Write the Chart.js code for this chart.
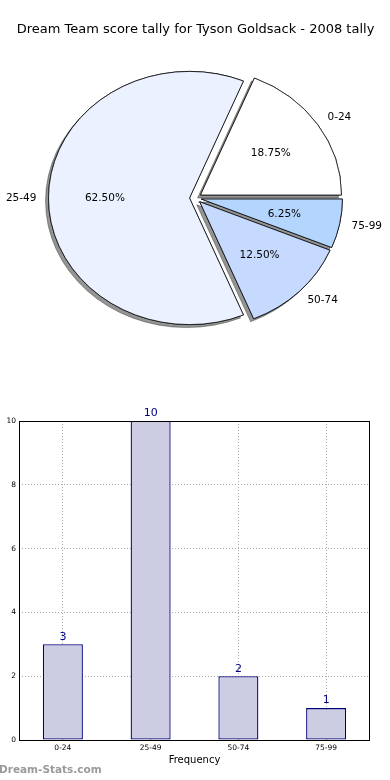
<!DOCTYPE html>
<html>
<head>
<meta charset="utf-8">
<script src="https://cdn.jsdelivr.net/npm/chart.js@4"></script>
<style>
  html, body { margin: 0; padding: 0; background: #fff; }
  #wrap { position: relative; width: 390px; height: 780px; overflow: hidden; }
  #pieChart { position: absolute; left: 0; top: 0; }
  #barChart { position: absolute; left: 0; top: 390px; }
</style>
</head>
<body>
<div id="wrap">
  <canvas id="pieChart" width="390" height="390"></canvas>
  <canvas id="barChart" width="390" height="390"></canvas>
</div>
<script>
const categories = ['0-24', '25-49', '50-74', '75-99'];
const counts = [3, 10, 2, 1];
const yTicks = [0, 2, 4, 6, 8, 10];

const chartTitle = 'Dream Team score tally for Tyson Goldsack - 2008 tally';
const xTitle = 'Frequency';
const yTitle = 'Distribution';
const watermark = 'Dream-Stats.com';

const sliceColors = ['#ffffff', '#ebf1fe', '#c6d9fe', '#b4d6fe'];
const FONT = "'DejaVu Sans', sans-serif";
const squash = 0.898;   // pie is drawn as an ellipse, like the original
const explode = 6;      // px each slice is pushed out

Chart.defaults.font.family = FONT;
Chart.defaults.animation = false;

// matplotlib goes counter-clockwise from 3 o'clock, chart.js clockwise, so reverse
const pieLabels = categories.slice().reverse();
const pieValues = counts.slice().reverse();
const total = counts.reduce((a, b) => a + b, 0);

// draw the arcs ourselves: squashed, exploded, shadows first then the slices
const explodePlugin = {
    id: 'explode',
    beforeDatasetDraw(chart, args) {
        const ctx = chart.ctx;
        const a = chart.chartArea;
        const cy = (a.top + a.bottom) / 2;
        const drawArcs = () => {
            args.meta.data.forEach(arc => {
                const mid = (arc.startAngle + arc.endAngle) / 2;
                ctx.save();
                ctx.translate(Math.cos(mid) * explode, Math.sin(mid) * explode);
                arc.draw(ctx);
                ctx.restore();
            });
        };
        ctx.save();
        ctx.translate(0, cy);
        ctx.scale(1, squash);
        ctx.translate(0, -cy);

        ctx.save();
        ctx.shadowColor = 'rgba(0,0,0,0.42)';
        ctx.shadowOffsetX = -3;
        ctx.shadowOffsetY = 3;
        ctx.shadowBlur = 0;
        drawArcs();
        ctx.restore();

        drawArcs();
        ctx.restore();
        return false;
    }
};

const pieLabelPlugin = {
    id: 'pieLabels',
    afterDraw(chart) {
        const ctx = chart.ctx;
        const meta = chart.getDatasetMeta(0);
        ctx.save();
        ctx.font = '10.5px ' + FONT;
        ctx.fillStyle = '#000';
        ctx.textBaseline = 'middle';
        meta.data.forEach((arc, i) => {
            const p = arc.getProps(['x', 'y', 'startAngle', 'endAngle', 'outerRadius']);
            const mid = (p.startAngle + p.endAngle) / 2;
            const c = Math.cos(mid), s = Math.sin(mid);
            const at = (d) => [p.x + (explode + d * p.outerRadius) * c, p.y + squash * (explode + d * p.outerRadius) * s];

            const [lx, ly] = at(1.1);
            ctx.textAlign = c >= 0 ? 'left' : 'right';
            ctx.fillText(pieLabels[i], lx - 2 * Math.sign(c), ly);

            const [px, py] = at(0.6);
            ctx.textAlign = 'center';
            ctx.fillText((pieValues[i] / total * 100).toFixed(2) + '%', px, py);
        });
        ctx.restore();
    }
};

new Chart(document.getElementById('pieChart').getContext('2d'), {
    type: 'pie',
    data: {
        labels: pieLabels,
        datasets: [{
            data: pieValues,
            backgroundColor: sliceColors.slice().reverse(),
            borderColor: '#000',
            borderWidth: 0.8,
            offset: 0,
            hoverOffset: 0
        }]
    },
    options: {
        responsive: false,
        rotation: 90,
        radius: 141,
        layout: { padding: { top: 0, bottom: 41.6, left: 1, right: 0 } },
        plugins: {
            legend: { display: false },
            tooltip: { enabled: false },
            title: {
                display: true,
                text: chartTitle,
                color: '#000',
                font: { size: 13, weight: 'normal', family: FONT },
                padding: { top: 22, bottom: 10 }
            }
        }
    },
    plugins: [explodePlugin, pieLabelPlugin]
});

const frameLabelPlugin = {
    id: 'frameLabels',
    afterDraw(chart) {
        const ctx = chart.ctx;
        const a = chart.chartArea;
        ctx.save();
        ctx.strokeStyle = '#000';
        ctx.lineWidth = 1;
        ctx.strokeRect(a.left + 0.5, a.top + 0.5, a.right - a.left - 1, a.bottom - a.top);

        // value labels above bars
        const meta = chart.getDatasetMeta(0);
        ctx.fillStyle = '#000080';
        ctx.font = '11px ' + FONT;
        ctx.textAlign = 'center';
        ctx.textBaseline = 'bottom';
        meta.data.forEach((bar, i) => {
            ctx.fillText(String(counts[i]), bar.x, bar.y - 2);
        });

        // y title, cut off at the left edge
        ctx.save();
        ctx.translate(-3, (a.top + a.bottom) / 2);
        ctx.rotate(-Math.PI / 2);
        ctx.fillStyle = '#000';
        ctx.font = '10px ' + FONT;
        ctx.textAlign = 'center';
        ctx.textBaseline = 'middle';
        ctx.fillText(yTitle, 0, 0);
        ctx.restore();

        // watermark
        ctx.fillStyle = '#9a9a9a';
        ctx.font = 'bold 10.5px ' + FONT;
        ctx.textAlign = 'left';
        ctx.textBaseline = 'middle';
        ctx.fillText(watermark, -1, 380);
        ctx.restore();
    }
};

new Chart(document.getElementById('barChart').getContext('2d'), {
    type: 'bar',
    data: {
        labels: categories,
        datasets: [{
            data: counts,
            backgroundColor: '#cccce2',
            borderColor: '#00007a',
            borderWidth: 1.3,
            borderSkipped: false,
            barPercentage: 0.456,
            categoryPercentage: 1
        }]
    },
    options: {
        responsive: false,
        layout: { padding: { top: 31, right: 20, bottom: 0, left: 0 } },
        plugins: {
            legend: { display: false },
            tooltip: { enabled: false }
        },
        scales: {
            x: {
                grid: { offset: false, color: '#a8a8a8', drawTicks: false },
                border: { display: false, dash: [1, 2] },
                ticks: { color: '#000', font: { size: 7.5 }, padding: 4, maxRotation: 0 },
                title: {
                    display: true,
                    text: xTitle,
                    color: '#000',
                    font: { size: 10 },
                    padding: { top: 0, bottom: 14 }
                },
                afterFit(scale) { scale.height = 40; }
            },
            y: {
                min: 0,
                max: 10,
                afterBuildTicks(scale) { scale.ticks = yTicks.map(v => ({ value: v })); },
                grid: { color: '#a8a8a8', drawTicks: false },
                border: { display: false, dash: [1, 2] },
                ticks: { color: '#000', font: { size: 7.5 }, padding: 3 },
                afterFit(scale) { scale.width = 19; }
            }
        }
    },
    plugins: [frameLabelPlugin]
});
</script>
</body>
</html>
